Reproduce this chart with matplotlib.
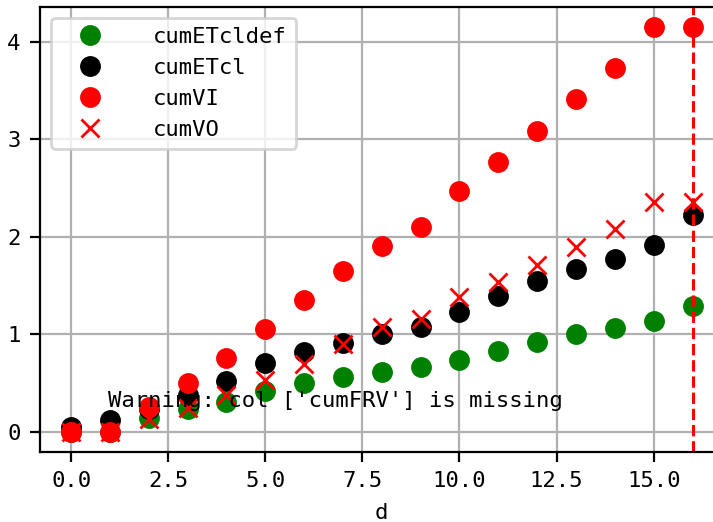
import numpy as np
import matplotlib
matplotlib.use("Agg")
import matplotlib.pyplot as plt
import matplotlib.ticker as mticker

# data
d = list(range(17))
cumETcldef = [0, 0, 0.14, 0.23, 0.31, 0.42, 0.50, 0.56, 0.61, 0.66, 0.74, 0.83, 0.92, 1.00, 1.06, 1.14, 1.29]
cumETcl = [0.05, 0.12, 0.23, 0.38, 0.52, 0.71, 0.82, 0.91, 1.00, 1.07, 1.23, 1.39, 1.55, 1.67, 1.77, 1.91, 2.22]
cumVI = [0, 0, 0.25, 0.50, 0.76, 1.05, 1.35, 1.65, 1.90, 2.10, 2.47, 2.77, 3.08, 3.41, 3.73, 4.15, 4.15]
cumVO = [0, 0, 0.13, 0.24, 0.38, 0.53, 0.69, 0.90, 1.07, 1.16, 1.38, 1.54, 1.71, 1.89, 2.08, 2.36, 2.36]
d_end = 16
warning_msg = "Warning: col ['cumFRV'] is missing"

plt.rcParams["font.family"] = ["DejaVu Sans Mono"]
plt.rcParams["font.size"] = 8.0

fig = plt.figure(figsize=(7.13 / 2, 5.22 / 2), dpi=200)
ax = fig.add_axes([40 / 713, 70 / 522, 683.6 / 713, 445.3 / 522])

ax.plot(d, cumETcldef, "o", color="green", ms=6.5, label="cumETcldef")
ax.plot(d, cumETcl, "o", color="black", ms=6.5, label="cumETcl")
ax.plot(d, cumVI, "o", color="red", ms=6.5, label="cumVI")
ax.plot(d, cumVO, "x", color="red", ms=6.5, mew=1.0, label="cumVO")
ax.axvline(d_end, color="red", ls="--", lw=1.1)

ax.text(0.1, 0.1, warning_msg, transform=ax.transAxes)

ax.xaxis.set_major_locator(mticker.MultipleLocator(2.5))
ax.xaxis.set_major_formatter(mticker.FormatStrFormatter("%.1f"))
ax.set_xlabel("d")
ax.grid(True)
ax.set_axisbelow(True)
ax.legend(loc="upper left", handlelength=2.7, handletextpad=1.5)

fig.savefig("out.png", dpi=200)
